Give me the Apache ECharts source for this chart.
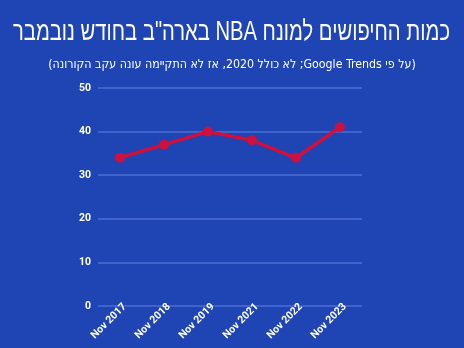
<!DOCTYPE html>
<html><head><meta charset="utf-8">
<script src="https://cdn.jsdelivr.net/npm/echarts@6/dist/echarts.min.js"></script>
<style>html,body{margin:0;padding:0;background:#1f44b4}#c{width:464px;height:348px}</style>
</head><body><div id="c" dir="rtl"></div>
<script>
const categories = ['Nov 2017','Nov 2018','Nov 2019','Nov 2021','Nov 2022','Nov 2023'];
const searches = [34, 37, 40, 38, 34, 41];
const yTicks = [0, 10, 20, 30, 40, 50];
const titleText = 'כמות החיפושים למונח NBA בארה"ב בחודש נובמבר';
const subtitleText = '(על פי Google Trends; לא כולל 2020, אז לא התקיימה עונה עקב הקורונה)';

const titleFont = '26px "Liberation Sans"';
const mctx = document.createElement('canvas').getContext('2d');
mctx.font = titleFont;
const titleW = mctx.measureText(titleText).width || 437;
const titleScale = 437 / titleW;

const chart = echarts.init(document.getElementById('c'), null, {renderer:'canvas'});
chart.setOption({
  backgroundColor: '#1f44b4',
  animation: false,
  title: [
    {text: subtitleText, left: 'center', top: 54,
     textStyle: {color:'#ffffff', fontSize: 12.3, fontWeight: 'normal', fontFamily: 'DejaVu Sans Condensed'}}
  ],
  graphic: [{
    type: 'text', x: 231.5, y: 32, scaleX: titleScale, scaleY: 1.05,
    style: {text: titleText, fill: '#ffffff', font: titleFont, align: 'center', verticalAlign: 'middle'}
  }],
  grid: {left: 98, right: 102, top: 88, bottom: 42, containLabel: false, outerBoundsMode: 'none'},
  xAxis: {
    type: 'category', data: categories, boundaryGap: true,
    axisLine: {show: false}, axisTick: {show: false},
    axisLabel: {color:'#ffffff', rotate: 45, fontSize: 10.5, fontWeight: 'bold', fontFamily: 'Roboto', margin: 4, interval: 0, padding: [0, -7, 0, 0]}
  },
  yAxis: {
    type: 'value', min: yTicks[0], max: yTicks[yTicks.length-1], interval: 10,
    axisLine: {show: false}, axisTick: {show: false},
    axisLabel: {color:'#ffffff', fontSize: 10.5, fontWeight: 'bold', fontFamily: 'Roboto', margin: 7},
    splitLine: {lineStyle: {color: '#4c6fd3', width: 1.5}}
  },
  series: [{
    type: 'line', data: searches,
    lineStyle: {color: '#d0103c', width: 3.5},
    itemStyle: {color: '#d0103c'},
    symbol: 'circle', symbolSize: 10
  }]
});
</script></body></html>
